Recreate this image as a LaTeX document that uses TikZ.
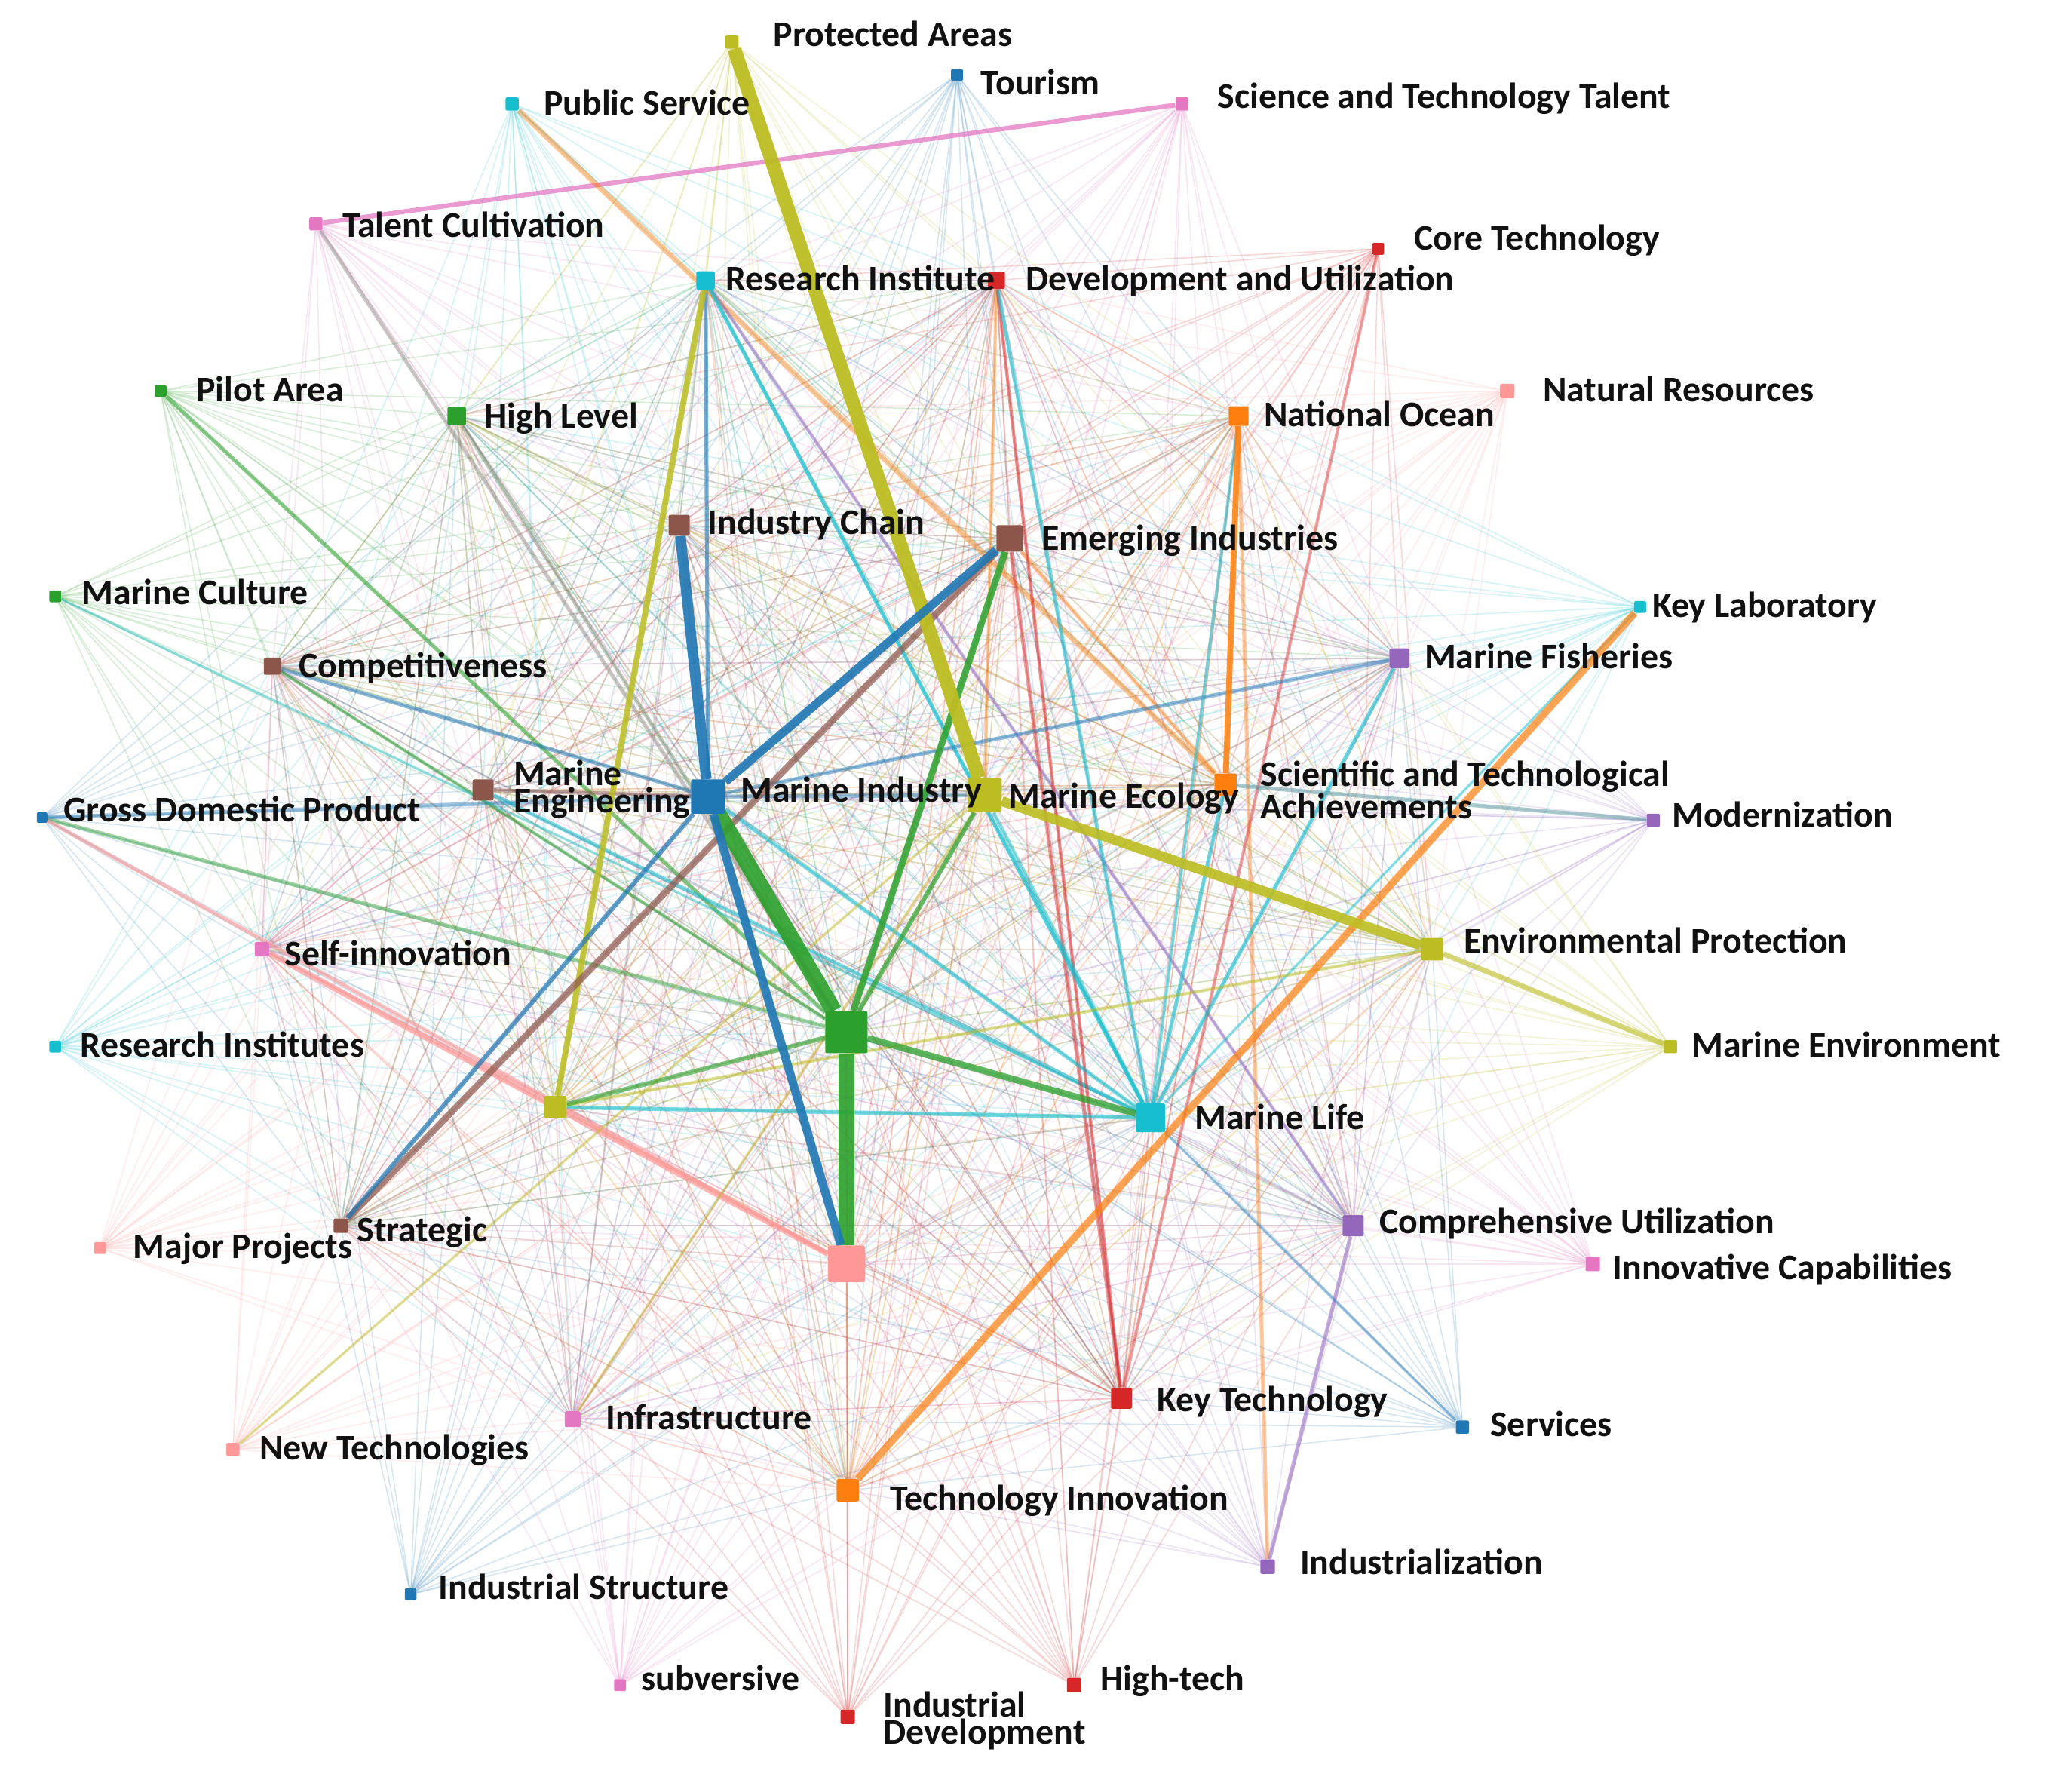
\documentclass[tikz,border=0pt]{standalone}
\usepackage{fontspec}
\setmainfont{Carlito}
\definecolor{cBlue}{HTML}{1F77B4}
\definecolor{cOrange}{HTML}{FF7F0E}
\definecolor{cGreen}{HTML}{2CA02C}
\definecolor{cRed}{HTML}{D62728}
\definecolor{cPurple}{HTML}{9467BD}
\definecolor{cBrown}{HTML}{8C564B}
\definecolor{cPink}{HTML}{E377C2}
\definecolor{cOlive}{HTML}{BCBD22}
\definecolor{cCyan}{HTML}{17BECF}
\definecolor{cSalmon}{HTML}{FF9896}
\definecolor{cGray}{HTML}{8A8A80}
\definecolor{txt}{HTML}{111111}
\pgfdeclarelayer{bg}
\pgfdeclarelayer{edges}
\pgfsetlayers{bg,edges,main}
\tikzset{
  sq/.style={rectangle, inner sep=0pt, rounded corners=1.2pt, minimum size=#1},
  lab/.style={anchor=base west, inner sep=0pt, text=txt, font=\bfseries\fontsize{27.4}{21}\selectfont},
  labtwo/.style={anchor=west, inner sep=0pt, align=left, text=txt, font=\bfseries\fontsize{27.4}{21}\selectfont},
  faint/.style={line width=0.9pt, draw opacity=0.18},
  edge/.style={line width=#1},
}
\begin{document}
\begin{tikzpicture}[x=1pt,y=-1pt]
\useasboundingbox (0,0) rectangle (1568,1361);
\begin{pgfonlayer}{bg}
\fill[white] (0,0) rectangle (1568,1361);
\end{pgfonlayer}
% nodes
\node[sq=10pt, fill=cOlive] (PA) at (556,32) {};
\node[sq=9pt, fill=cBlue] (TO) at (727,57) {};
\node[sq=10pt, fill=cPink] (STT) at (898,79) {};
\node[sq=10pt, fill=cCyan] (PS) at (389,79) {};
\node[sq=10pt, fill=cPink] (TC) at (240,170) {};
\node[sq=14pt, fill=cCyan] (RI) at (536,213) {};
\node[sq=13pt, fill=cRed] (DU) at (757,213) {};
\node[sq=9pt, fill=cRed] (CT) at (1047,189) {};
\node[sq=9pt, fill=cGreen] (PIL) at (122,297) {};
\node[sq=14pt, fill=cGreen] (HL) at (347,316) {};
\node[sq=11pt, fill=cSalmon] (NR) at (1145,297) {};
\node[sq=15pt, fill=cOrange] (NO) at (941,316) {};
\node[sq=16pt, fill=cBrown] (IC) at (516,399) {};
\node[sq=20pt, fill=cBrown] (EI) at (767,409) {};
\node[sq=9pt, fill=cGreen] (MC) at (42,453) {};
\node[sq=9pt, fill=cCyan] (KL) at (1246,461) {};
\node[sq=13pt, fill=cBrown] (CO) at (207,506) {};
\node[sq=15pt, fill=cPurple] (MF) at (1063,500) {};
\node[sq=16pt, fill=cBrown] (MEN) at (367,600) {};
\node[sq=26pt, fill=cBlue] (MI) at (538,605) {};
\node[sq=26pt, fill=cOlive] (ME) at (748,604) {};
\node[sq=17pt, fill=cOrange] (SA) at (931,596) {};
\node[sq=8pt, fill=cBlue] (GDP) at (32,621) {};
\node[sq=10pt, fill=cPurple] (MOD) at (1256,623) {};
\node[sq=11pt, fill=cPink] (SI) at (199,721) {};
\node[sq=17pt, fill=cOlive] (EP) at (1088,721) {};
\node[sq=9pt, fill=cCyan] (RIS) at (42,795) {};
\node[sq=10pt, fill=cOlive] (MEV) at (1269,795) {};
\node[sq=32pt, fill=cGreen] (GC) at (643,784) {};
\node[sq=17pt, fill=cOlive] (ON) at (422,841) {};
\node[sq=22pt, fill=cCyan] (ML) at (874,849) {};
\node[sq=11pt, fill=cBrown] (ST) at (259,931) {};
\node[sq=9pt, fill=cSalmon] (MP) at (76,948) {};
\node[sq=16pt, fill=cPurple] (CU) at (1028,931) {};
\node[sq=11pt, fill=cPink] (ICAP) at (1210,960) {};
\node[sq=28pt, fill=cSalmon] (PN) at (643,960) {};
\node[sq=16pt, fill=cRed] (KT) at (852,1062) {};
\node[sq=10pt, fill=cBlue] (SV) at (1111,1084) {};
\node[sq=12pt, fill=cPink] (INF) at (435,1078) {};
\node[sq=10pt, fill=cSalmon] (NT) at (177,1101) {};
\node[sq=17pt, fill=cOrange] (TI) at (644,1132) {};
\node[sq=11pt, fill=cPurple] (IZ) at (963,1190) {};
\node[sq=9pt, fill=cBlue] (IS) at (312,1211) {};
\node[sq=9pt, fill=cPink] (SUB) at (471,1280) {};
\node[sq=11pt, fill=cRed] (ID) at (644,1304) {};
\node[sq=11pt, fill=cRed] (HT) at (816,1280) {};

\begin{pgfonlayer}{edges}
\foreach \a/\c in {PA/cOlive, TO/cBlue, STT/cPink, PS/cCyan, TC/cPink, RI/cCyan, DU/cRed, CT/cRed, PIL/cGreen, HL/cGreen, NR/cSalmon, NO/cOrange, IC/cBrown, EI/cBrown, MC/cGreen, KL/cCyan, CO/cBrown, MF/cPurple, MEN/cBrown, MI/cBlue, ME/cOlive, SA/cOrange, GDP/cBlue, MOD/cPurple, SI/cPink, EP/cOlive, RIS/cCyan, MEV/cOlive, GC/cGreen, ON/cOlive, ML/cCyan, ST/cBrown, MP/cSalmon, CU/cPurple, ICAP/cPink, PN/cSalmon, KT/cRed, SV/cBlue, INF/cPink, NT/cSalmon, TI/cOrange, IZ/cPurple, IS/cBlue, SUB/cPink, ID/cRed, HT/cRed}{
  \foreach \b in {MI, ME, GC, PN, ML, ON, EI, IC, SA, KT, TI, RI, DU, MEN, CU, EP, NO, MF, ST, HL, INF, SI, CO}{
    \draw[faint, draw=\c] (\a) -- (\b);
  }
}
% strong edges
\draw[edge=3pt, draw=cGray, draw opacity=0.45] (TC) -- (GC);
\draw[edge=3pt, draw=cGray, draw opacity=0.45] (HL) -- (GC);
\draw[edge=3pt, draw=cGreen, draw opacity=0.55] (PIL) -- (GC);
\draw[edge=2.5pt, draw=cGreen, draw opacity=0.5] (CO) -- (GC);
\draw[edge=3pt, draw=cBlue, draw opacity=0.5] (CO) -- (MI);
\draw[edge=3pt, draw=cGreen, draw opacity=0.45] (GDP) -- (GC);
\draw[edge=3pt, draw=cBlue, draw opacity=0.4] (GDP) -- (MI);
\draw[edge=3pt, draw=cSalmon, draw opacity=0.6] (GDP) -- (PN);
\draw[edge=4.5pt, draw=cSalmon, draw opacity=0.7] (SI) -- (PN);
\draw[edge=3pt, draw=cBrown, draw opacity=0.5] (MEN) -- (MI);
\draw[edge=3pt, draw=cCyan, draw opacity=0.55] (MEN) -- (ML);
\draw[edge=2pt, draw=cCyan, draw opacity=0.4] (MC) -- (ML);
\draw[edge=3.5pt, draw=cPink, draw opacity=0.75] (STT) -- (TC);
\draw[edge=4pt, draw=cOrange, draw opacity=0.45] (PS) -- (SA);
\draw[edge=3pt, draw=cOrange, draw opacity=0.4] (NO) -- (IZ);
\draw[edge=3pt, draw=cOrange, draw opacity=0.4] (EI) -- (SA);
\draw[edge=2.5pt, draw=cOrange, draw opacity=0.4] (DU) -- (ME);
\draw[edge=2.5pt, draw=cPurple, draw opacity=0.5] (RI) -- (CU);
\draw[edge=3pt, draw=cPurple, draw opacity=0.55] (CU) -- (IZ);
\draw[edge=2.5pt, draw=cRed, draw opacity=0.5] (KT) -- (DU);
\draw[edge=3pt, draw=cRed, draw opacity=0.45] (KT) -- (EI);
\draw[edge=2.5pt, draw=cRed, draw opacity=0.4] (KT) -- (CT);
\draw[edge=3pt, draw=cCyan, draw opacity=0.55] (DU) -- (ML);
\draw[edge=3pt, draw=cCyan, draw opacity=0.7] (RI) -- (ML);
\draw[edge=3pt, draw=cBlue, draw opacity=0.6] (RI) -- (MI);
\draw[edge=3pt, draw=cCyan, draw opacity=0.6] (MF) -- (ML);
\draw[edge=3pt, draw=cBlue, draw opacity=0.45] (MF) -- (MI);
\draw[edge=3pt, draw=cCyan!40!gray, draw opacity=0.5] (MOD) -- (SA);
\draw[edge=3pt, draw=cCyan, draw opacity=0.6] (ML) -- (ON);
\draw[edge=2pt, draw=cBlue, draw opacity=0.4] (ML) -- (SV);
\draw[edge=3pt, draw=cCyan, draw opacity=0.6] (ML) -- (SA);
\draw[edge=2.5pt, draw=cCyan, draw opacity=0.5] (ML) -- (NO);
\draw[edge=3pt, draw=cCyan, draw opacity=0.55] (MI) -- (ML);
\draw[edge=3pt, draw=cCyan, draw opacity=0.5] (ML) -- (ME);
\draw[edge=2pt, draw=cCyan, draw opacity=0.45] (KL) -- (ML);
\draw[edge=2pt, draw=cOlive, draw opacity=0.45] (NT) -- (ME);
\draw[edge=2pt, draw=cOlive, draw opacity=0.4] (INF) -- (ME);
\draw[edge=3pt, draw=cBlue, draw opacity=0.4] (MI) -- (ME);
\draw[edge=2.5pt, draw=cOlive, draw opacity=0.45] (ON) -- (EP);
\draw[edge=4pt, draw=cOlive, draw opacity=0.6] (EP) -- (MEV);
\draw[edge=5.5pt, draw=cOrange, draw opacity=0.7] (KL) -- (TI);
\draw[edge=4.5pt, draw=cOrange, draw opacity=0.85] (NO) -- (SA);
\draw[edge=4.5pt, draw=cOlive, draw opacity=0.85] (RI) -- (ON);
\draw[edge=3.5pt, draw=cGreen, draw opacity=0.6] (GC) -- (ON);
\draw[edge=3.5pt, draw=cGreen, draw opacity=0.7] (GC) -- (ME);
\draw[edge=5pt, draw=cGreen, draw opacity=0.75] (GC) -- (ML);
\draw[edge=5pt, draw=cGreen, draw opacity=0.85] (EI) -- (GC);
\draw[edge=5pt, draw=cBrown, draw opacity=0.7] (EI) -- (ST);
\draw[edge=3.5pt, draw=cBlue, draw opacity=0.7] (MI) -- (ST);
\draw[edge=7.5pt, draw=cOlive, draw opacity=0.9] (ME) -- (EP);
\draw[edge=10.5pt, draw=cOlive, draw opacity=0.95] (PA) -- (ME);
\draw[edge=12.5pt, draw=cGreen, draw opacity=0.9] (MI) -- (GC);
\draw[edge=12pt, draw=cGreen, draw opacity=0.9] (GC) -- (PN);
\draw[edge=6.5pt, draw=cBlue, draw opacity=0.9] (MI) -- (PN);
\draw[edge=8pt, draw=cBlue, draw opacity=0.9] (MI) -- (IC);
\draw[edge=6.5pt, draw=cBlue, draw opacity=0.9] (MI) -- (EI);
\end{pgfonlayer}

% labels
\node[lab] (lPA) at (587.5,35.5) {Protected Areas};
\node[lab] (lTO) at (745,72) {Tourism};
\node[lab] (lSTT) at (925,82) {Science and Technology Talent};
\node[lab] (lPS) at (413,87.6) {Public Service};
\node[lab] (lTC) at (260,180) {Talent Cultivation};
\node[lab] (lRI) at (551,221) {Research Institute};
\node[lab] (lDU) at (779,221) {Development and Utilization};
\node[lab] (lCT) at (1074,190) {Core Technology};
\node[lab] (lPIL) at (149,305) {Pilot Area};
\node[lab] (lHL) at (368,325) {High Level};
\node[lab] (lNR) at (1172,305) {Natural Resources};
\node[lab] (lNO) at (960,324) {National Ocean};
\node[lab] (lIC) at (537.5,406) {Industry Chain};
\node[lab] (lEI) at (791,418) {Emerging Industries};
\node[lab] (lMC) at (62,459) {Marine Culture};
\node[lab] (lKL) at (1255,469) {Key Laboratory};
\node[lab] (lCO) at (227,515) {Competitiveness};
\node[lab] (lMF) at (1082,508) {Marine Fisheries};
\node[labtwo] (lMEN) at (390,599.6) {Marine\\Engineering};
\node[lab] (lMI) at (562.5,609) {Marine Industry};
\node[lab] (lME) at (766,614) {Marine Ecology};
\node[labtwo] (lSA) at (957.5,600) {Scientific and Technological\\Achievements};
\node[lab] (lGDP) at (48,624) {Gross Domestic Product};
\node[lab] (lMOD) at (1270,628) {Modernization};
\node[lab] (lSI) at (216,733.7) {Self-innovation};
\node[lab] (lEP) at (1112,724) {Environmental Protection};
\node[lab] (lRIS) at (61,803) {Research Institutes};
\node[lab] (lMEV) at (1285,803) {Marine Environment};
\node[lab] (lML) at (907.5,858) {Marine Life};
\node[lab] (lST) at (271,943) {Strategic};
\node[lab] (lMP) at (101,956) {Major Projects};
\node[lab] (lCU) at (1048,937) {Comprehensive Utilization};
\node[lab] (lICAP) at (1225,972) {Innovative Capabilities};
\node[lab] (lKT) at (879,1072) {Key Technology};
\node[lab] (lSV) at (1132,1091) {Services};
\node[lab] (lINF) at (460,1086) {Infrastructure};
\node[lab] (lNT) at (197,1109) {New Technologies};
\node[lab] (lTI) at (676,1147) {Technology Innovation};
\node[lab] (lIZ) at (987.5,1196) {Industrialization};
\node[lab] (lIS) at (333,1215) {Industrial Structure};
\node[lab] (lSUB) at (487,1284) {subversive};
\node[labtwo] (lID) at (671,1307) {Industrial\\Development};
\node[lab] (lHT) at (836,1284) {High-tech};
\end{tikzpicture}
\end{document}
